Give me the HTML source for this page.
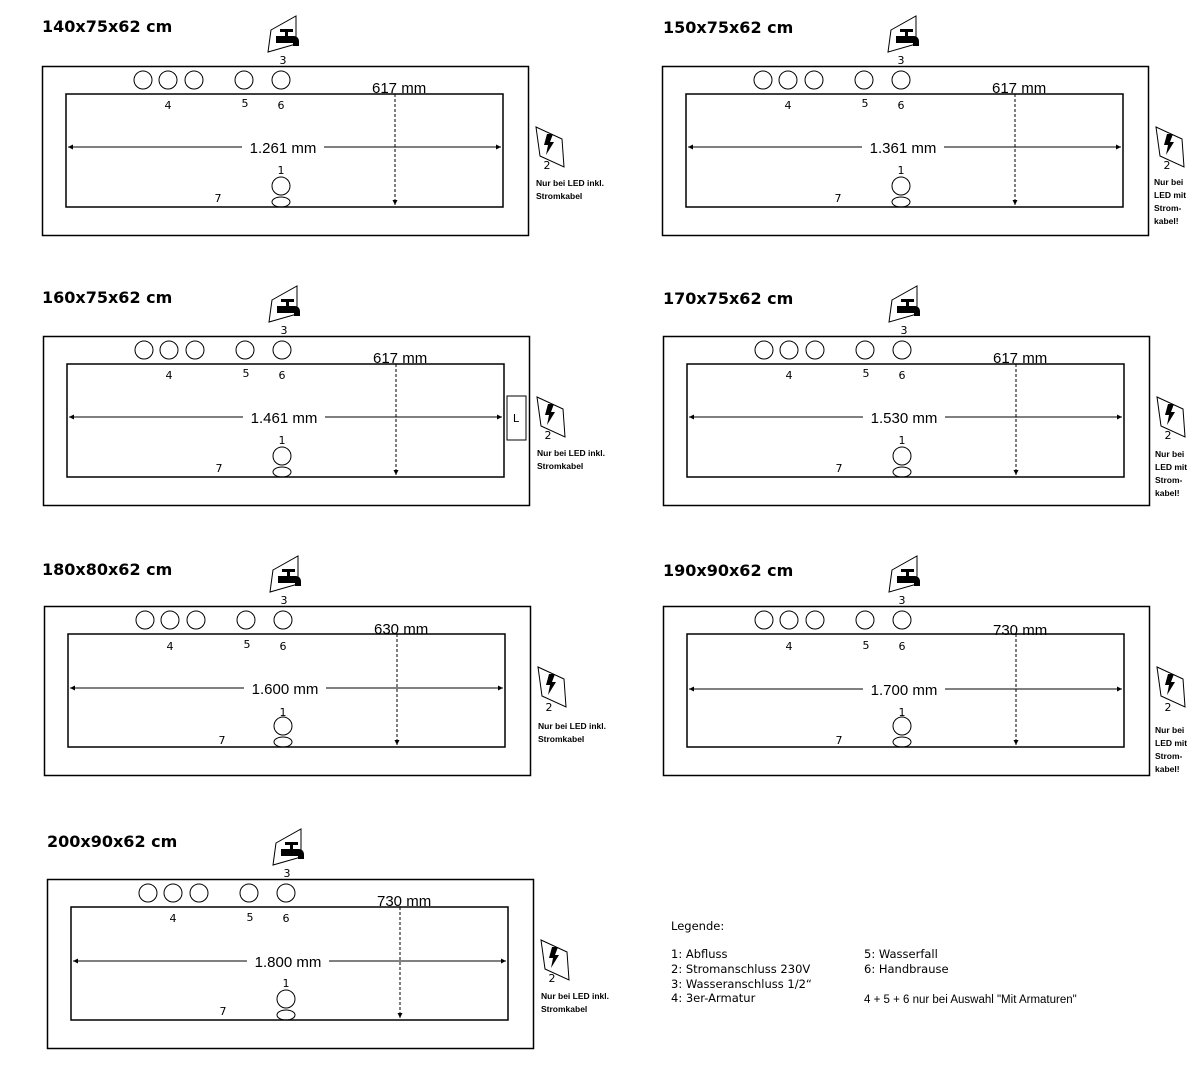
<!DOCTYPE html>
<html><head><meta charset="utf-8"><style>
html,body{margin:0;padding:0;background:#fff;}
svg{display:block;font-family:"DejaVu Sans","Liberation Sans",sans-serif;}
.t{font-weight:bold;font-size:16px;fill:#000;}
.s{font-size:11px;fill:#000;}
.m{font-size:15px;fill:#000;font-family:"Liberation Sans",sans-serif;}
.n{font-size:8.5px;font-weight:bold;fill:#000;font-family:"Liberation Sans",sans-serif;}
.lg{font-size:11.5px;fill:#000;}
</style></head><body>
<svg width="1200" height="1075" viewBox="0 0 1200 1075" xmlns="http://www.w3.org/2000/svg">
<defs>
<marker id="ar" viewBox="0 0 6 6" refX="6" refY="3" markerWidth="5" markerHeight="5" orient="auto-start-reverse"><path d="M0,0L6,3L0,6z" fill="#000"/></marker>
<g id="base" fill="none" stroke="#000">
  <rect x="0.5" y="0.5" width="486" height="169" stroke-width="1.5"/>
  <rect x="24" y="28" width="437" height="113" stroke-width="1.5"/>
  <circle cx="101" cy="14" r="9"/><circle cx="126" cy="14" r="9"/><circle cx="152" cy="14" r="9"/>
  <circle cx="202" cy="14" r="9"/><circle cx="239" cy="14" r="9"/>
  <circle cx="239" cy="120" r="9"/><ellipse cx="239" cy="136" rx="9" ry="5"/>
  <line x1="353" y1="28" x2="353" y2="139" stroke-dasharray="3,2" marker-end="url(#ar)"/>
  <path d="M229,-36 L254,-50 L254,-22 L226,-14z" stroke-width="1"/>
  <path d="M234,-30h9v-4h-5v-3h13v3h-5v4h6a5,5 0 0 1 5,5v5h-6v-3h-17z" fill="#000" stroke="none"/>
  <path d="M494,61 L520,73 L522,101 L498,90z" stroke-width="1"/>
  <path d="M505,68 L511,68 L508,76 L512,76 L504,89 L506,79 L502,79z" fill="#000" stroke="none"/>
</g>
</defs>

<text class="t" x="42" y="32">140x75x62 cm</text>
<g transform="translate(42,66)">
<use href="#base"/>
<line x1="26" y1="81" x2="200" y2="81" stroke="#000" marker-start="url(#ar)"/><line x1="282" y1="81" x2="459" y2="81" stroke="#000" marker-end="url(#ar)"/>
<text class="m" x="241" y="87" text-anchor="middle">1.261 mm</text>
<text class="m" x="330" y="27">617 mm</text>
<text class="s" x="241" y="-2" text-anchor="middle">3</text>
<text class="s" x="126" y="43" text-anchor="middle">4</text><text class="s" x="203" y="41" text-anchor="middle">5</text><text class="s" x="239" y="43" text-anchor="middle">6</text>
<text class="s" x="239" y="108" text-anchor="middle">1</text><text class="s" x="176" y="136" text-anchor="middle">7</text>
<text class="s" x="505" y="103" text-anchor="middle">2</text>
<text class="n" x="494" y="120">Nur bei LED inkl.</text><text class="n" x="494" y="133">Stromkabel</text>
</g>

<text class="t" x="663" y="33">150x75x62 cm</text>
<g transform="translate(662,66)">
<use href="#base"/>
<line x1="26" y1="81" x2="200" y2="81" stroke="#000" marker-start="url(#ar)"/><line x1="282" y1="81" x2="459" y2="81" stroke="#000" marker-end="url(#ar)"/>
<text class="m" x="241" y="87" text-anchor="middle">1.361 mm</text>
<text class="m" x="330" y="27">617 mm</text>
<text class="s" x="239" y="-2" text-anchor="middle">3</text>
<text class="s" x="126" y="43" text-anchor="middle">4</text><text class="s" x="203" y="41" text-anchor="middle">5</text><text class="s" x="239" y="43" text-anchor="middle">6</text>
<text class="s" x="239" y="108" text-anchor="middle">1</text><text class="s" x="176" y="136" text-anchor="middle">7</text>
<text class="s" x="505" y="103" text-anchor="middle">2</text>
<text class="n" x="492" y="119">Nur bei</text><text class="n" x="492" y="132">LED mit</text><text class="n" x="492" y="145">Strom-</text><text class="n" x="492" y="158">kabel!</text>
</g>

<text class="t" x="42" y="303">160x75x62 cm</text>
<g transform="translate(43,336)">
<use href="#base"/>
<rect x="464" y="60" width="19" height="44" fill="none" stroke="#000"/>
<text class="s" x="473" y="86" text-anchor="middle">L</text>
<line x1="26" y1="81" x2="200" y2="81" stroke="#000" marker-start="url(#ar)"/><line x1="282" y1="81" x2="459" y2="81" stroke="#000" marker-end="url(#ar)"/>
<text class="m" x="241" y="87" text-anchor="middle">1.461 mm</text>
<text class="m" x="330" y="27">617 mm</text>
<text class="s" x="241" y="-2" text-anchor="middle">3</text>
<text class="s" x="126" y="43" text-anchor="middle">4</text><text class="s" x="203" y="41" text-anchor="middle">5</text><text class="s" x="239" y="43" text-anchor="middle">6</text>
<text class="s" x="239" y="108" text-anchor="middle">1</text><text class="s" x="176" y="136" text-anchor="middle">7</text>
<text class="s" x="505" y="103" text-anchor="middle">2</text>
<text class="n" x="494" y="120">Nur bei LED inkl.</text><text class="n" x="494" y="133">Stromkabel</text>
</g>

<text class="t" x="663" y="304">170x75x62 cm</text>
<g transform="translate(663,336)">
<use href="#base"/>
<line x1="26" y1="81" x2="200" y2="81" stroke="#000" marker-start="url(#ar)"/><line x1="282" y1="81" x2="459" y2="81" stroke="#000" marker-end="url(#ar)"/>
<text class="m" x="241" y="87" text-anchor="middle">1.530 mm</text>
<text class="m" x="330" y="27">617 mm</text>
<text class="s" x="241" y="-2" text-anchor="middle">3</text>
<text class="s" x="126" y="43" text-anchor="middle">4</text><text class="s" x="203" y="41" text-anchor="middle">5</text><text class="s" x="239" y="43" text-anchor="middle">6</text>
<text class="s" x="239" y="108" text-anchor="middle">1</text><text class="s" x="176" y="136" text-anchor="middle">7</text>
<text class="s" x="505" y="103" text-anchor="middle">2</text>
<text class="n" x="492" y="121">Nur bei</text><text class="n" x="492" y="134">LED mit</text><text class="n" x="492" y="147">Strom-</text><text class="n" x="492" y="160">kabel!</text>
</g>

<text class="t" x="42" y="575">180x80x62 cm</text>
<g transform="translate(44,606)">
<use href="#base"/>
<line x1="26" y1="82" x2="200" y2="82" stroke="#000" marker-start="url(#ar)"/><line x1="282" y1="82" x2="459" y2="82" stroke="#000" marker-end="url(#ar)"/>
<text class="m" x="241" y="88" text-anchor="middle">1.600 mm</text>
<text class="m" x="330" y="28">630 mm</text>
<text class="s" x="240" y="-2" text-anchor="middle">3</text>
<text class="s" x="126" y="44" text-anchor="middle">4</text><text class="s" x="203" y="42" text-anchor="middle">5</text><text class="s" x="239" y="44" text-anchor="middle">6</text>
<text class="s" x="239" y="110" text-anchor="middle">1</text><text class="s" x="178" y="138" text-anchor="middle">7</text>
<text class="s" x="505" y="105" text-anchor="middle">2</text>
<text class="n" x="494" y="123">Nur bei LED inkl.</text><text class="n" x="494" y="136">Stromkabel</text>
</g>

<text class="t" x="663" y="576">190x90x62 cm</text>
<g transform="translate(663,606)">
<use href="#base"/>
<line x1="26" y1="83" x2="200" y2="83" stroke="#000" marker-start="url(#ar)"/><line x1="282" y1="83" x2="459" y2="83" stroke="#000" marker-end="url(#ar)"/>
<text class="m" x="241" y="89" text-anchor="middle">1.700 mm</text>
<text class="m" x="330" y="29">730 mm</text>
<text class="s" x="239" y="-2" text-anchor="middle">3</text>
<text class="s" x="126" y="44" text-anchor="middle">4</text><text class="s" x="203" y="43" text-anchor="middle">5</text><text class="s" x="239" y="44" text-anchor="middle">6</text>
<text class="s" x="239" y="110" text-anchor="middle">1</text><text class="s" x="176" y="138" text-anchor="middle">7</text>
<text class="s" x="505" y="105" text-anchor="middle">2</text>
<text class="n" x="492" y="127">Nur bei</text><text class="n" x="492" y="140">LED mit</text><text class="n" x="492" y="153">Strom-</text><text class="n" x="492" y="166">kabel!</text>
</g>

<text class="t" x="47" y="847">200x90x62 cm</text>
<g transform="translate(47,879)">
<use href="#base"/>
<line x1="26" y1="82" x2="200" y2="82" stroke="#000" marker-start="url(#ar)"/><line x1="282" y1="82" x2="459" y2="82" stroke="#000" marker-end="url(#ar)"/>
<text class="m" x="241" y="88" text-anchor="middle">1.800 mm</text>
<text class="m" x="330" y="27">730 mm</text>
<text class="s" x="240" y="-2" text-anchor="middle">3</text>
<text class="s" x="126" y="43" text-anchor="middle">4</text><text class="s" x="203" y="42" text-anchor="middle">5</text><text class="s" x="239" y="43" text-anchor="middle">6</text>
<text class="s" x="239" y="108" text-anchor="middle">1</text><text class="s" x="176" y="136" text-anchor="middle">7</text>
<text class="s" x="505" y="103" text-anchor="middle">2</text>
<text class="n" x="494" y="120">Nur bei LED inkl.</text><text class="n" x="494" y="133">Stromkabel</text>
</g>

<text class="lg" x="671" y="930">Legende:</text>
<text class="lg" x="671" y="958">1: Abfluss</text>
<text class="lg" x="671" y="973">2: Stromanschluss 230V</text>
<text class="lg" x="671" y="988">3: Wasseranschluss 1/2“</text>
<text class="lg" x="671" y="1002">4: 3er-Armatur</text>
<text class="lg" x="864" y="958">5: Wasserfall</text>
<text class="lg" x="864" y="973">6: Handbrause</text>
<text x="864" y="1003" style="font-size:11.5px;font-family:'Liberation Sans',sans-serif">4 + 5 + 6 nur bei Auswahl "Mit Armaturen"</text>
</svg>
</body></html>
